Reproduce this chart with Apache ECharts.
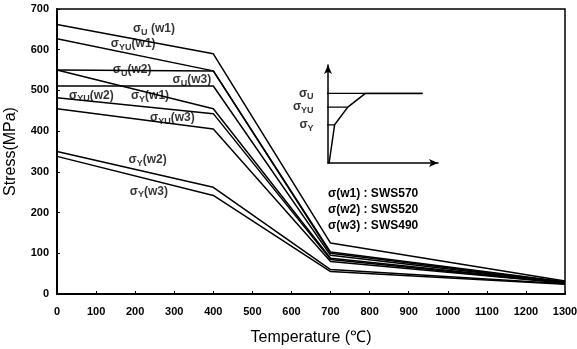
<!DOCTYPE html>
<html>
<head>
<meta charset="utf-8">
<script src="https://cdn.jsdelivr.net/npm/echarts@6/dist/echarts.min.js"></script>
<style>html,body{margin:0;padding:0;background:#fff;}#c{width:577px;height:349px;}</style>
</head>
<body>
<div id="c"></div>
<script>
// ---- data ----
var temps = [0, 400, 700, 1300];
var sU_w1  = [662, 590, 125, 32];
var sYU_w1 = [627, 548, 103, 30];
var sU_w2  = [550, 548, 100, 29];
var sU_w3  = [511, 511, 95, 28];
var sY_w1  = [550, 455, 88, 28];
var sYU_w2 = [482, 443, 85, 27];
var sYU_w3 = [455, 405, 80, 27];
var sY_w2  = [350, 262, 60, 25];
var sY_w3  = [338, 242, 55, 24];
var xTicks = [0,100,200,300,400,500,600,700,800,900,1000,1100,1200,1300];
var yTicks = [0,100,200,300,400,500,600,700];
// curve labels: [x, y, main, sub, tail]
var curveLabels = [
  [248, 652, 'σ', 'U', ' (w1)'],
  [195, 614, 'σ', 'YU', '(w1)'],
  [192, 551, 'σ', 'U', '(w2)'],
  [345, 526, 'σ', 'U', '(w3)'],
  [88, 488, 'σ', 'YU', '(w2)'],
  [238, 486, 'σ', 'Y', '(w1)'],
  [295, 432, 'σ', 'YU', '(w3)'],
  [232, 330, 'σ', 'Y', '(w2)'],
  [235, 252, 'σ', 'Y', '(w3)']
];
var legendLines = ['σ(w1) : SWS570', 'σ(w2) : SWS520', 'σ(w3) : SWS490'];
// schematic inset (strain, stress) in arbitrary units
var insetCurve = [[0.1,0],[0.6,3.9],[1.8,5.7],[3.4,7.1],[8.6,7.1]];
var insetLevels = [['U',7.1,8.6],['YU',5.7,1.8],['Y',3.9,0.6]];

var FONT = 'Liberation Sans, Arial, sans-serif';
function series(name, vals){
  return {name:name, type:'line', xAxisIndex:0, yAxisIndex:0, symbol:'none',
    lineStyle:{color:'#000', width:1.5}, data: temps.map(function(t,i){return [t, vals[i]];})};
}
var rich = {
  m:{fontFamily:FONT, fontSize:12, fontWeight:'bold', color:'#000', lineHeight:16, verticalAlign:'middle'},
  s:{fontFamily:FONT, fontSize:9, fontWeight:'bold', color:'#000', lineHeight:16, verticalAlign:'bottom', padding:[3,0,0,0]}
};
var allSeries = [
  series('sU_w1', sU_w1), series('sYU_w1', sYU_w1), series('sU_w2', sU_w2),
  series('sU_w3', sU_w3), series('sY_w1', sY_w1), series('sYU_w2', sYU_w2),
  series('sYU_w3', sYU_w3), series('sY_w2', sY_w2), series('sY_w3', sY_w3),
  {type:'scatter', xAxisIndex:0, yAxisIndex:0, symbolSize:0, silent:true, z:5,
   data: curveLabels.map(function(l){return {value:[l[0],l[1]], lab:l};}),
   label:{show:true, position:'inside', rich:rich,
     formatter:function(p){var l=p.data.lab; return '{m|'+l[2]+'}{s|'+l[3]+'}{m|'+l[4]+'}';}}},
  {type:'line', xAxisIndex:1, yAxisIndex:1, symbol:'none', clip:false,
   lineStyle:{color:'#000', width:1.5}, data: insetCurve},
  {type:'scatter', xAxisIndex:1, yAxisIndex:1, symbolSize:0, silent:true, clip:false, z:5,
   data: insetLevels.map(function(lv){return {value:[-0.4, lv[1]], sub:lv[0]};}),
   label:{show:true, position:'left', distance:10, rich:rich,
     formatter:function(p){return '{m|σ}{s|'+p.data.sub+'}';}}}
];
insetLevels.forEach(function(lv){
  allSeries.push({type:'line', xAxisIndex:1, yAxisIndex:1, symbol:'none', clip:false,
    lineStyle:{color:'#000', width:1.3},
    data:[[-0.4, lv[1]], [lv[2], lv[1]]]});
});
var chart = echarts.init(document.getElementById('c'), null, {renderer:'canvas'});
chart.setOption({
  animation:false,
  backgroundColor:'#fff',
  grid:[{left:57, right:12, top:9, bottom:55, show:true, borderColor:'#000', borderWidth:1.5, outerBoundsMode:'none', containLabel:false},
        {left:328, top:65, width:110, height:98, outerBoundsMode:'none', containLabel:false}],
  xAxis:[{type:'value', gridIndex:0, min:0, max:1300, interval:100,
          name:'Temperature (℃)', nameLocation:'middle', nameGap:36,
          nameTextStyle:{fontFamily:FONT, fontSize:16, color:'#000'},
          axisLine:{lineStyle:{color:'#000', width:2}},
          axisTick:{inside:true, length:3, lineStyle:{color:'#000'}},
          axisLabel:{fontFamily:FONT, fontSize:11, fontWeight:'bold', color:'#000', margin:12,
            formatter:function(v){return xTicks.indexOf(v)>=0 ? String(v) : '';}},
          splitLine:{show:false}},
         {type:'value', gridIndex:1, min:0, max:10, show:true,
          axisLine:{onZero:false, lineStyle:{color:'#000', width:1.5}, symbol:['none','arrow'], symbolSize:[6,9]},
          axisTick:{show:false}, axisLabel:{show:false}, splitLine:{show:false}}],
  yAxis:[{type:'value', gridIndex:0, min:0, max:700, interval:100,
          name:'Stress(MPa)', nameLocation:'middle', nameGap:38,
          nameTextStyle:{fontFamily:FONT, fontSize:16, color:'#000'},
          axisLine:{lineStyle:{color:'#000', width:2}},
          axisTick:{inside:true, length:3, lineStyle:{color:'#000'}},
          axisLabel:{fontFamily:FONT, fontSize:11, fontWeight:'bold', color:'#000', margin:8,
            formatter:function(v){return yTicks.indexOf(v)>=0 ? String(v) : '';}},
          splitLine:{show:false}},
         {type:'value', gridIndex:1, min:0, max:10, show:true,
          axisLine:{onZero:false, lineStyle:{color:'#000', width:1.5}, symbol:['none','arrow'], symbolSize:[6,9]},
          axisTick:{show:false}, axisLabel:{show:false}, splitLine:{show:false}}],
  graphic:[{type:'group', left:328, top:188, children: legendLines.map(function(t,i){
      return {type:'text', x:0, y:i*16, style:{text:t, font:'bold 12px '+FONT, fill:'#000'}};
  })}],
  series: allSeries
});
</script>
</body>
</html>
